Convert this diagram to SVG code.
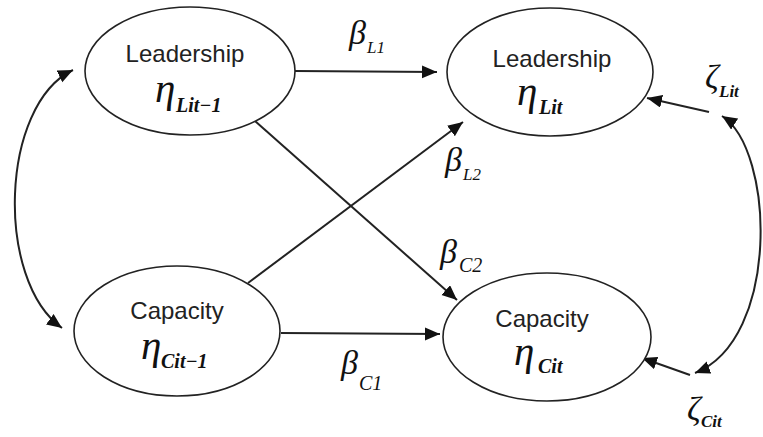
<svg xmlns="http://www.w3.org/2000/svg" width="763" height="437" viewBox="0 0 763 437">
<style>
.node{fill:#fff;stroke:#222;stroke-width:1.6}
.lbl{font-family:"Liberation Sans",Arial,sans-serif;font-size:24px;fill:#222;text-anchor:middle}
.gr{font-family:"Liberation Serif","Times New Roman",serif;font-style:italic;fill:#111}
.eta{font-size:41px}
.sub{font-size:20px;font-weight:bold}
.bet{font-size:34px}
.bsub{font-size:17px}
.csub{font-size:20px}
.zet{font-size:34px}
.zsub{font-size:17px;font-weight:bold}
.con{fill:none;stroke:#222;stroke-width:2}
</style>
<defs>
<marker id="ah" markerUnits="userSpaceOnUse" markerWidth="16" markerHeight="14" refX="15" refY="6.5" orient="auto-start-reverse">
<path d="M0,0 L15,6.5 L0,13 z" fill="#111"/>
</marker>
</defs>
<g id="connectors">
<path class="con" d="M295,71 L437,72" marker-end="url(#ah)"/>
<path class="con" d="M281,333 L440,334" marker-end="url(#ah)"/>
<path class="con" d="M255,121 L457,300" marker-end="url(#ah)"/>
<path class="con" d="M248,283 L463,122" marker-end="url(#ah)"/>
<path class="con" d="M709,112 L647,98" marker-end="url(#ah)"/>
<path class="con" d="M690,375 L642,358" marker-end="url(#ah)"/>
<path class="con" d="M73,70 C0,105 -5,280 62,328" marker-start="url(#ah)" marker-end="url(#ah)"/>
<path class="con" d="M722,116 C775,150 780,340 695,373" marker-start="url(#ah)" marker-end="url(#ah)"/>
</g>
<g id="lead_prev">
<ellipse class="node" cx="190" cy="71" rx="105" ry="64"/>
<text class="lbl" x="185" y="62">Leadership</text>
<text class="gr eta" x="155" y="102">η</text>
<text class="gr sub" x="176" y="112">Lit−1</text>
</g>
<g id="lead_now">
<ellipse class="node" cx="550" cy="72" rx="103" ry="64"/>
<text class="lbl" x="552" y="67">Leadership</text>
<text class="gr eta" x="517" y="105">η</text>
<text class="gr sub" x="539" y="114">Lit</text>
</g>
<g id="cap_prev">
<ellipse class="node" cx="177" cy="331" rx="103" ry="65"/>
<text class="lbl" x="177" y="319">Capacity</text>
<text class="gr eta" x="141" y="359">η</text>
<text class="gr sub" x="161" y="368">Cit−1</text>
</g>
<g id="cap_now">
<ellipse class="node" cx="547" cy="337" rx="104" ry="64"/>
<text class="lbl" x="542" y="327">Capacity</text>
<text class="gr eta" x="514" y="365">η</text>
<text class="gr sub" x="538" y="373">Cit</text>
</g>
<g id="labels">
<text class="gr bet" x="349" y="44">β</text><text class="gr bsub" x="367" y="53">L1</text>
<text class="gr bet" x="445" y="171">β</text><text class="gr bsub" x="463" y="180">L2</text>
<text class="gr bet" x="440" y="263">β</text><text class="gr csub" x="459" y="272">C2</text>
<text class="gr bet" x="341" y="374">β</text><text class="gr csub" x="359" y="390">C1</text>
<text class="gr zet" x="705" y="88">ζ</text><text class="gr zsub" x="719" y="97">Lit</text>
<text class="gr zet" x="687" y="420">ζ</text><text class="gr zsub" x="701" y="427">Cit</text>
</g>
</svg>
